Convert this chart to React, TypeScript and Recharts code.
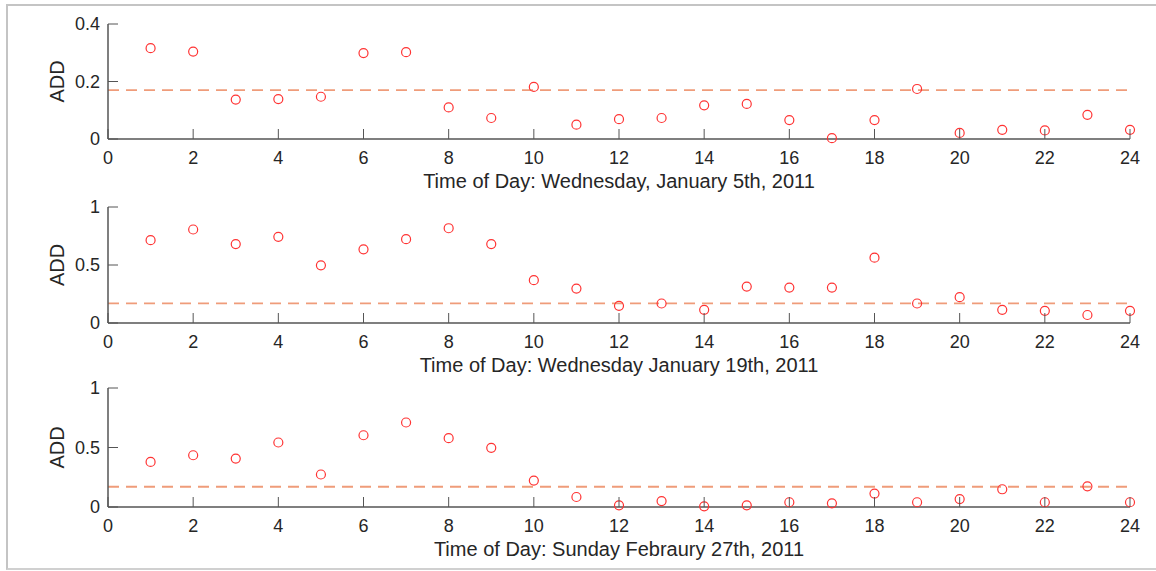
import React from 'react';
import { ScatterChart, Scatter, XAxis, YAxis, ReferenceLine } from 'recharts';

// hour of day for every sample (one per hour)
const HOURS = [1, 2, 3, 4, 5, 6, 7, 8, 9, 10, 11, 12, 13, 14, 15, 16, 17, 18, 19, 20, 21, 22, 23, 24];

// ADD per hour
const ADD_JAN_5 = [0.316, 0.304, 0.137, 0.139, 0.147, 0.299, 0.302, 0.11, 0.073, 0.181, 0.05, 0.069, 0.073, 0.117, 0.122, 0.066, 0.003, 0.066, 0.174, 0.021, 0.032, 0.03, 0.084, 0.032];
const ADD_JAN_19 = [0.714, 0.806, 0.68, 0.743, 0.497, 0.635, 0.723, 0.817, 0.68, 0.369, 0.297, 0.148, 0.168, 0.114, 0.314, 0.305, 0.305, 0.563, 0.168, 0.223, 0.114, 0.105, 0.069, 0.105];
const ADD_FEB_27 = [0.379, 0.435, 0.407, 0.542, 0.273, 0.603, 0.71, 0.578, 0.497, 0.222, 0.084, 0.014, 0.05, 0.006, 0.014, 0.04, 0.031, 0.113, 0.04, 0.067, 0.149, 0.04, 0.174, 0.04];

const THRESHOLD = 0.17;

const HOUR_TICKS = [0, 2, 4, 6, 8, 10, 12, 14, 16, 18, 20, 22, 24];
const ADD_TICKS_SMALL = [0, 0.2, 0.4];
const ADD_TICKS_UNIT = [0, 0.5, 1];

const TITLE_JAN_5 = 'Time of Day: Wednesday, January 5th, 2011';
const TITLE_JAN_19 = 'Time of Day: Wednesday January 19th, 2011';
const TITLE_FEB_27 = 'Time of Day: Sunday Febraury 27th, 2011';

const FONT = "'Liberation Sans', Arial, Helvetica, sans-serif";
const TEXT = '#262626';
const AXIS = '#555555';
const MARKER = '#ff3333';
const DASH = '#ef9c7a';

const PAD_TOP = 24;
const X_AXIS_H = 56;

function XTick(props: any) {
    const { x, y, payload } = props;
    return (
        <g>
            <line x1={x} y1={y} x2={x} y2={y - 10} stroke={AXIS} strokeWidth={1} />
            <text x={x} y={y + 25} textAnchor="middle" fill={TEXT} fontSize={18} fontFamily={FONT}>
                {payload.value}
            </text>
        </g>
    );
}

function YTick(props: any) {
    const { x, y, payload } = props;
    return (
        <g>
            <line x1={x} y1={y} x2={x + 10} y2={y} stroke={AXIS} strokeWidth={1} />
            <text x={x - 8} y={y} textAnchor="end" dominantBaseline="central" fill={TEXT} fontSize={18} fontFamily={FONT}>
                {payload.value}
            </text>
        </g>
    );
}

function Ring(props: any) {
    const { cx, cy } = props;
    return <circle cx={cx} cy={cy} r={4.5} fill="none" stroke={MARKER} strokeWidth={1.2} />;
}

function Panel({ values, yMax, yTicks, title, top, plotHeight }: {
    values: number[]; yMax: number; yTicks: number[]; title: string; top: number; plotHeight: number;
}) {
    const data = HOURS.map((hour, i) => ({ hour, add: values[i] }));
    const height = PAD_TOP + plotHeight + X_AXIS_H;

    return (
        <div style={{ position: 'absolute', left: 0, top }}>
            <ScatterChart width={1156} height={height} margin={{ top: PAD_TOP, right: 26, bottom: 0, left: 0 }}>
                <XAxis
                    type="number"
                    dataKey="hour"
                    domain={[0, 24]}
                    ticks={HOUR_TICKS}
                    interval={0}
                    height={X_AXIS_H}
                    axisLine={{ stroke: AXIS, strokeWidth: 1.5 }}
                    tickLine={false}
                    tickSize={0}
                    tickMargin={0}
                    tick={(p: any) => <XTick {...p} />}
                    label={{ value: title, position: 'insideBottom', offset: 7, fill: TEXT, fontSize: 20, fontFamily: FONT }}
                />
                <YAxis
                    type="number"
                    dataKey="add"
                    domain={[0, yMax]}
                    ticks={yTicks}
                    interval={0}
                    width={108}
                    axisLine={{ stroke: AXIS, strokeWidth: 1.5 }}
                    tickLine={false}
                    tickSize={0}
                    tickMargin={0}
                    tick={(p: any) => <YTick {...p} />}
                    label={() => (
                        <text
                            x={0}
                            y={0}
                            transform={`translate(57, ${PAD_TOP + plotHeight / 2}) rotate(-90)`}
                            textAnchor="middle"
                            dominantBaseline="central"
                            fill={TEXT}
                            fontSize={20}
                            fontFamily={FONT}
                        >
                            ADD
                        </text>
                    )}
                />
                <ReferenceLine y={THRESHOLD} stroke={DASH} strokeWidth={1.8} strokeDasharray="11 7" />
                <Scatter data={data} shape={(p: any) => <Ring {...p} />} isAnimationActive={false} />
            </ScatterChart>
        </div>
    );
}

export default function App() {
    return (
        <div style={{ position: 'absolute', left: 0, top: 0, width: 1156, height: 571, overflow: 'hidden', background: '#fff', fontFamily: FONT }}>
            <div
                style={{
                    position: 'absolute',
                    left: 6,
                    top: 4,
                    width: 1150,
                    height: 566,
                    boxSizing: 'border-box',
                    borderTop: '2px solid #c4c4c4',
                    borderLeft: '2px solid #c4c4c4',
                    borderBottom: '2px solid #d0d0d0',
                }}
            />
            <Panel values={ADD_JAN_5} yMax={0.4} yTicks={ADD_TICKS_SMALL} title={TITLE_JAN_5} top={0} plotHeight={115} />
            <Panel values={ADD_JAN_19} yMax={1} yTicks={ADD_TICKS_UNIT} title={TITLE_JAN_19} top={183} plotHeight={116} />
            <Panel values={ADD_FEB_27} yMax={1} yTicks={ADD_TICKS_UNIT} title={TITLE_FEB_27} top={364} plotHeight={119} />
        </div>
    );
}
